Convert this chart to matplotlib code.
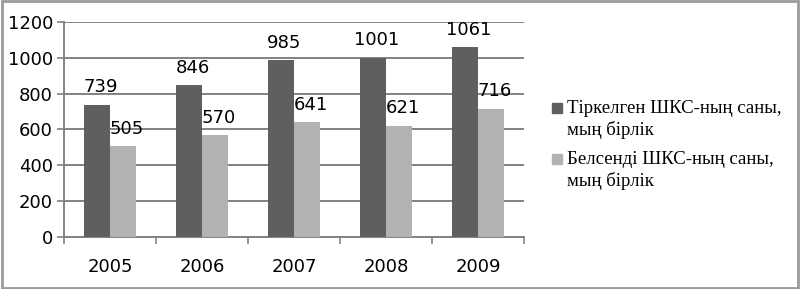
import numpy as np
import matplotlib.pyplot as plt
from matplotlib.patches import Rectangle

years = ['2005', '2006', '2007', '2008', '2009']
registered = [739, 846, 985, 1001, 1061]
active = [505, 570, 641, 621, 716]
series_names = ['Тіркелген ШКС-ның саны,\nмың бірлік',
                'Белсенді ШКС-ның саны,\nмың бірлік']
colors = ['#5f5f5f', '#b2b2b2']

fig = plt.figure(figsize=(8, 2.89), dpi=100)
ax = fig.add_axes([0.08, 0.18, 0.575, 0.744])

x = np.arange(len(years))
w = 0.283
for vals, off, c in [(registered, -w / 2, colors[0]), (active, w / 2, colors[1])]:
    bars = ax.bar(x + off, vals, width=w, color=c, zorder=3)
    for b, v in zip(bars, vals):
        ax.annotate(str(v), (b.get_x() + b.get_width() / 2, v),
                    xytext=(2.5, 6), textcoords='offset points',
                    ha='center', va='bottom', fontsize=13, color='black', zorder=4)

ax.set_xlim(-0.5, len(years) - 0.5)
ax.set_ylim(0, 1200)
ax.set_yticks(range(0, 1201, 200))
ax.yaxis.grid(True, color='#828282', linewidth=1.4, zorder=0)
ax.set_axisbelow(True)

# category boundary ticks, labels at the centres
ax.set_xticks(np.arange(len(years) + 1) - 0.5)
ax.set_xticklabels([])
ax.set_xticks(x, minor=True)
ax.set_xticklabels(years, minor=True, fontsize=13)
ax.tick_params(axis='x', which='major', length=5, width=1.2, color='#828282')
ax.tick_params(axis='x', which='minor', length=0, pad=15)
ax.tick_params(axis='y', length=5, width=1.2, color='#828282', labelsize=13, pad=3)

for s in ['top', 'right']:
    ax.spines[s].set_visible(False)
for s in ['left', 'bottom']:
    ax.spines[s].set_color('#828282')
    ax.spines[s].set_linewidth(1.4)

# legend drawn by hand so the marker sits on the first text line
W, H = 800, 289
for i, (name, c) in enumerate(zip(series_names, colors)):
    top = 100 + i * 51
    fig.patches.append(Rectangle((552 / W, 1 - (top + 13) / H), 10 / W, 10 / H,
                                 transform=fig.transFigure, color=c))
    fig.text(567 / W, 1 - top / H, name, fontsize=13.5,
             family='Liberation Serif', va='top', ha='left', linespacing=1.28)

# outer frame
fig.patches.append(Rectangle((0.002, 0.004), 0.996, 0.992, transform=fig.transFigure,
                             fill=False, edgecolor='#9a9a9a', linewidth=2))

fig.savefig('out.png', dpi=100)
